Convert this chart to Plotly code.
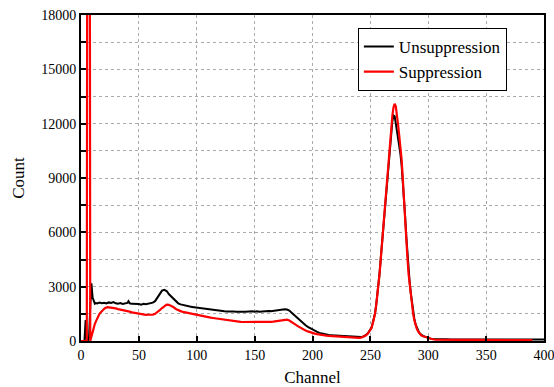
import plotly.graph_objects as go

# ---------------- data ----------------
unsup_channel = [0, 1, 2, 3, 4, 5, 6, 7, 8, 9, 10, 11, 12, 13, 14, 16, 18, 20, 22, 24, 26, 28, 30,
                 32, 34, 36, 38, 40, 41, 42, 44, 46, 48, 50, 52, 54, 56, 58, 60, 62, 64, 66, 68,
                 70, 72, 74, 76, 78, 80, 82, 84, 86, 88, 90, 92, 94, 96, 98, 100, 102, 104, 106,
                 108, 110, 112, 114, 116, 118, 120, 122, 124, 126, 128, 130, 132, 134, 136, 138,
                 140, 142, 144, 146, 148, 150, 152, 154, 156, 158, 160, 162, 164, 166, 168, 170,
                 172, 174, 176, 178, 180, 182, 184, 186, 188, 190, 192, 194, 196, 198, 200, 202,
                 204, 206, 208, 210, 212, 214, 216, 218, 220, 222, 224, 226, 228, 230, 232, 234,
                 236, 238, 240, 242, 244, 246, 248, 249, 250, 251, 252, 253, 254, 255, 256, 257,
                 258, 259, 260, 261, 262, 263, 264, 265, 266, 267, 268, 269, 270, 271, 272, 273,
                 274, 275, 276, 277, 278, 279, 280, 281, 282, 283, 284, 285, 286, 287, 288, 289,
                 290, 291, 292, 293, 294, 295, 296, 297, 298, 300, 302, 304, 306, 310, 315, 320,
                 330, 340, 350, 360, 370, 380, 390, 400]
unsup_count = [0, 0, 0, 0, 1150, 60, 40, 250, 1900, 3180, 2400, 2150, 2060, 2100, 2080, 2120, 2090,
               2110, 2070, 2130, 2100, 2150, 2080, 2060, 2090, 2050, 2070, 2100, 2200, 2080, 2050,
               2060, 2030, 2040, 2010, 2050, 2030, 2060, 2080, 2120, 2200, 2380, 2600, 2780, 2830,
               2760, 2580, 2450, 2300, 2180, 2080, 2020, 1980, 1950, 1920, 1900, 1880, 1860, 1850,
               1830, 1800, 1790, 1760, 1740, 1720, 1700, 1690, 1680, 1660, 1650, 1640, 1630, 1640,
               1620, 1630, 1610, 1620, 1640, 1620, 1610, 1630, 1620, 1640, 1620, 1640, 1610, 1630,
               1650, 1640, 1660, 1650, 1670, 1680, 1690, 1710, 1720, 1750, 1740, 1680, 1560, 1440,
               1320, 1200, 1080, 970, 870, 780, 700, 620, 560, 500, 450, 410, 380, 350, 330, 320,
               310, 290, 280, 270, 260, 250, 245, 240, 230, 220, 210, 205, 215, 250, 320, 440, 530,
               640, 740, 980, 1220, 1520, 1980, 2480, 3080, 3780, 4580, 5380, 6180, 6980, 7820,
               8660, 9420, 10200, 10950, 11650, 12150, 12450, 12400, 12000, 11600, 11200, 10800,
               10300, 9700, 8900, 7900, 6900, 5800, 4800, 3900, 3200, 2600, 2050, 1580, 1220, 930,
               740, 590, 470, 390, 330, 285, 260, 240, 210, 160, 130, 110, 100, 95, 90, 88, 85, 84,
               82, 80, 80, 78, 78, 76]

sup_channel = [0, 1, 2, 3, 4, 5, 6, 7, 8, 9, 10, 11, 12, 13, 14, 15, 16, 17, 18, 19, 20, 21, 22,
               23, 24, 26, 28, 30, 32, 34, 36, 38, 40, 42, 44, 46, 48, 50, 52, 54, 56, 58, 60, 62,
               64, 66, 68, 70, 72, 74, 76, 78, 80, 82, 84, 86, 88, 90, 92, 94, 96, 98, 100, 102,
               104, 106, 108, 110, 112, 114, 116, 118, 120, 122, 124, 126, 128, 130, 132, 134,
               136, 138, 140, 142, 144, 146, 148, 150, 152, 154, 156, 158, 160, 162, 164, 166,
               168, 170, 172, 174, 176, 178, 180, 182, 184, 186, 188, 190, 192, 194, 196, 198,
               200, 202, 204, 206, 208, 210, 212, 214, 216, 218, 220, 222, 224, 226, 228, 230,
               232, 234, 236, 238, 240, 242, 244, 246, 248, 249, 250, 251, 252, 253, 254, 255,
               256, 257, 258, 259, 260, 261, 262, 263, 264, 265, 266, 267, 268, 269, 270, 271,
               272, 273, 274, 275, 276, 277, 278, 279, 280, 281, 282, 283, 284, 285, 286, 287,
               288, 289, 290, 291, 292, 293, 294, 295, 296, 297, 298, 300, 302, 304, 306, 310,
               315, 320, 330, 340, 350, 360, 370, 380, 390, 400]
sup_count = [0, 0, 0, 0, 0, 0, 60000, 60000, 0, 250, 550, 800, 950, 1100, 1250, 1380, 1500, 1580,
             1660, 1720, 1780, 1820, 1850, 1870, 1860, 1850, 1820, 1800, 1760, 1740, 1700, 1670,
             1650, 1620, 1580, 1550, 1530, 1520, 1480, 1460, 1440, 1450, 1440, 1460, 1500, 1580,
             1700, 1820, 1920, 2010, 2000, 1940, 1860, 1770, 1700, 1650, 1610, 1580, 1550, 1520,
             1490, 1460, 1430, 1400, 1380, 1360, 1340, 1320, 1290, 1270, 1250, 1230, 1210, 1190,
             1170, 1150, 1130, 1100, 1080, 1070, 1060, 1060, 1050, 1050, 1040, 1030, 1030, 1020,
             1030, 1030, 1040, 1040, 1050, 1060, 1060, 1070, 1090, 1100, 1130, 1160, 1190, 1180,
             1130, 1060, 980, 880, 790, 710, 640, 580, 530, 480, 440, 410, 380, 350, 330, 315, 300,
             285, 275, 265, 255, 245, 240, 230, 220, 210, 200, 195, 185, 180, 175, 190, 240, 300,
             420, 520, 620, 720, 950, 1200, 1500, 1950, 2450, 3050, 3750, 4550, 5350, 6150, 6950,
             7800, 8650, 9400, 10200, 11000, 11800, 12450, 12900, 13100, 12950, 12500, 11900,
             11300, 10800, 10000, 8980, 7700, 6700, 5600, 4600, 3700, 3100, 2500, 1950, 1490,
             1150, 880, 700, 560, 450, 370, 310, 270, 250, 230, 200, 150, 115, 95, 80, 70, 65, 62,
             60, 58, 57, 56, 55, 55, 54]

x_ticks = [0, 50, 100, 150, 200, 250, 300, 350, 400]
x_tick_labels = ["0", "50", "100", "150", "200", "250", "300", "350", "400"]
y_ticks = [0, 3000, 6000, 9000, 12000, 15000, 18000]
y_tick_labels = ["0", "3000", "6000", "9000", "12000", "15000", "18000"]

# ---------------- figure ----------------
SERIF = "Liberation Serif"
fig = go.Figure()
fig.add_trace(go.Scatter(x=unsup_channel, y=unsup_count, mode="lines", name="Unsuppression",
                         line=dict(color="black", width=2)))
fig.add_trace(go.Scatter(x=sup_channel, y=sup_count, mode="lines", name="Suppression",
                         line=dict(color="#ff0000", width=2.2)))

grid = dict(showgrid=True, gridcolor="#aaaaaa", griddash="dot", gridwidth=1)

fig.update_layout(
    width=554, height=387,
    margin=dict(l=81, r=10, t=15, b=46, autoexpand=False),
    paper_bgcolor="white", plot_bgcolor="white",
    font=dict(family=SERIF, size=14, color="black"),
    showlegend=True,
    legend=dict(x=0.598, y=0.96, xanchor="left", yanchor="top",
                bgcolor="white", bordercolor="black", borderwidth=1,
                font=dict(size=17, family=SERIF, color="black"),
                tracegroupgap=0),
    xaxis=dict(range=[0, 400], tickvals=x_ticks, ticktext=x_tick_labels, automargin=False,
               ticklabeloverflow="allow",
               tickfont=dict(family=SERIF, size=14, color="black"),
               ticks="inside", ticklen=5, tickwidth=2,
               tickcolor="black", showline=True, linecolor="black", linewidth=2, mirror=True,
               zeroline=False,
               title=dict(text="Channel", font=dict(size=17, family=SERIF), standoff=17), **grid),
    yaxis=dict(range=[0, 18000], tickvals=y_ticks, ticktext=y_tick_labels, automargin=False,
               tickfont=dict(family=SERIF, size=14, color="black"),
               ticks="inside", ticklen=5, tickwidth=2,
               tickcolor="black", showline=True, linecolor="black", linewidth=2, mirror=True,
               zeroline=False,
               minor=dict(dtick=1500, tick0=0, ticks="inside", ticklen=5, tickwidth=1.5,
                          tickcolor="black", showgrid=True, gridcolor="#aaaaaa",
                          griddash="dot", gridwidth=1),
               title=dict(text="Count", font=dict(size=17, family=SERIF), standoff=12), **grid),
)

fig.write_html("out.html")
